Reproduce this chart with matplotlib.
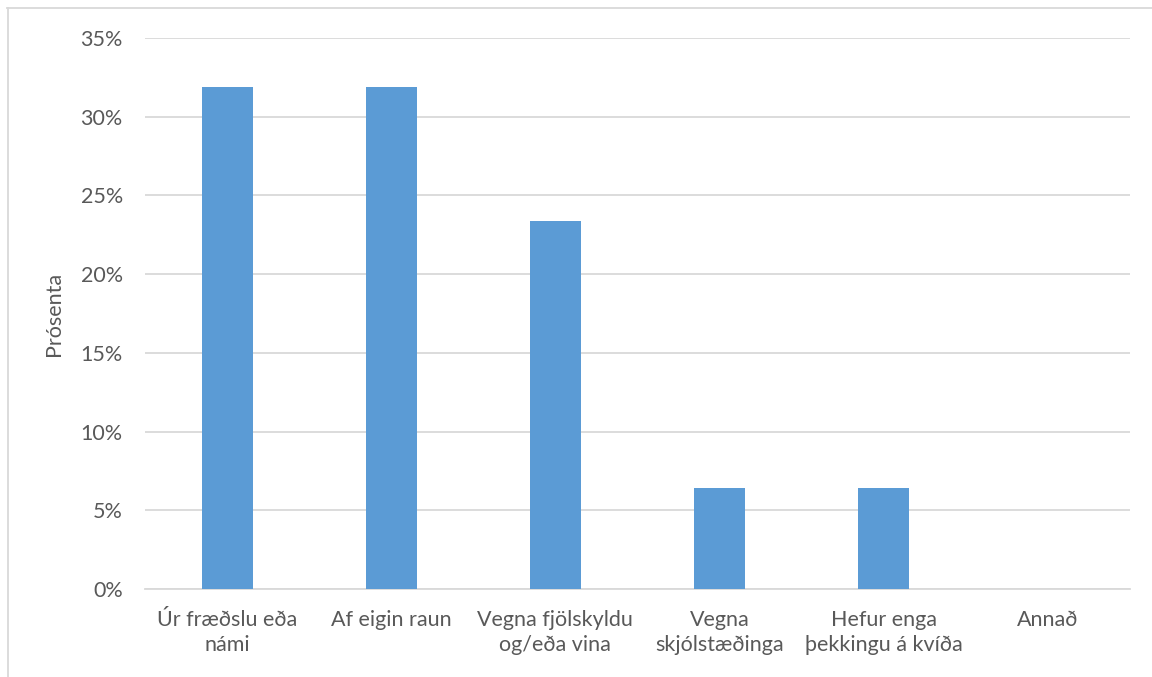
import matplotlib
matplotlib.use("Agg")
import matplotlib.pyplot as plt
from matplotlib.ticker import FuncFormatter, MultipleLocator
from matplotlib.lines import Line2D

categories = [
    "Úr fræðslu eða\nnámi",
    "Af eigin raun",
    "Vegna fjölskyldu\nog/eða vina",
    "Vegna\nskjólstæðinga",
    "Hefur enga\nþekkingu á kvíða",
    "Annað",
]
values = [31.9, 31.9, 23.4, 6.4, 6.4, 0.0]

plt.rcParams["font.family"] = ["Lato", "DejaVu Sans"]
text_color = "#595959"
grid_color = "#D9D9D9"
bar_color = "#5B9BD5"
fs = 15.5

fig = plt.figure(figsize=(11.52, 6.77), dpi=100)
ax = fig.add_axes([145 / 1152, 1 - 589 / 677, 985 / 1152, 551 / 677])

x = range(len(categories))
ax.bar(x, values, width=0.31, color=bar_color, zorder=3)

ax.set_xlim(-0.5, len(categories) - 0.5)
ax.set_ylim(0, 35)
ax.yaxis.set_major_locator(MultipleLocator(5))
ax.yaxis.set_major_formatter(FuncFormatter(lambda v, _: f"{v:.0f}%"))
ax.grid(axis="y", color=grid_color, linewidth=1.3, zorder=0)
ax.set_axisbelow(True)

for side in ["top", "right", "left"]:
    ax.spines[side].set_visible(False)
ax.spines["bottom"].set_color(grid_color)
ax.spines["bottom"].set_linewidth(1.3)

ax.set_xticks(list(x))
ax.set_xticklabels(categories, fontsize=fs, color=text_color, linespacing=1.3)
ax.tick_params(axis="x", length=0, pad=15)
ax.tick_params(axis="y", length=0, pad=16, labelsize=fs, labelcolor=text_color)

ax.set_ylabel("Prósenta", fontsize=fs, color=text_color, labelpad=12)

# light frame around the chart area
fig.add_artist(Line2D([7 / 1152, 1.0], [1 - 7.5 / 677, 1 - 7.5 / 677],
                      color=grid_color, linewidth=1.3, transform=fig.transFigure))
fig.add_artist(Line2D([7.5 / 1152, 7.5 / 1152], [0.0, 1 - 7.5 / 677],
                      color=grid_color, linewidth=1.3, transform=fig.transFigure))

fig.savefig("out.png", dpi=100, facecolor="white")
